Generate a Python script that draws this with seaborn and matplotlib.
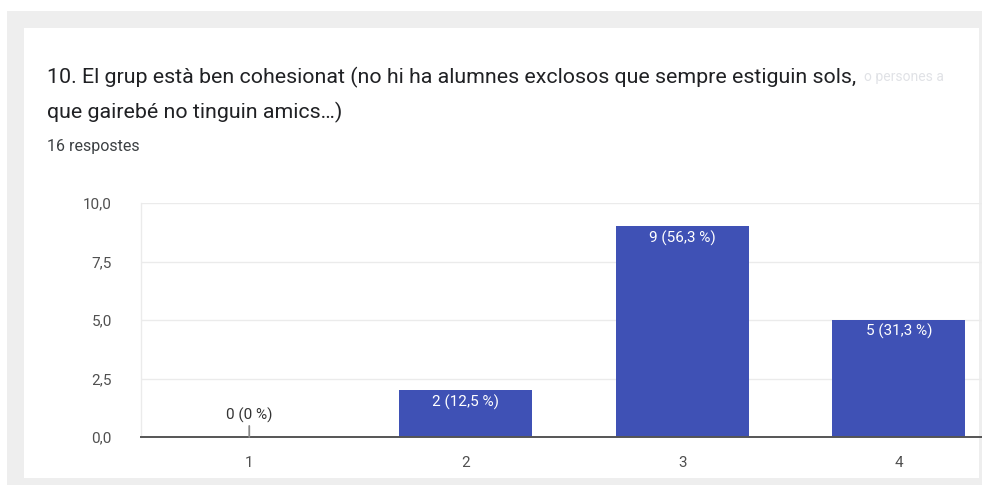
import matplotlib
matplotlib.use("Agg")
import matplotlib.pyplot as plt
from matplotlib.patches import Rectangle
from matplotlib.ticker import FuncFormatter, FixedLocator
import seaborn as sns
import pandas as pd

categories = ["1", "2", "3", "4"]
counts = [0, 2, 9, 5]
percents = ["0 %", "12,5 %", "56,3 %", "31,3 %"]
y_ticks = [0.0, 2.5, 5.0, 7.5, 10.0]
title_line1 = "10. El grup està ben cohesionat (no hi ha alumnes exclosos que sempre estiguin sols,"
title_hidden = "o persones a"
title_line2 = "que gairebé no tinguin amics…)"
subtitle = "16 respostes"

df = pd.DataFrame({"resposta": categories, "recompte": counts})

sns.set_theme(style="white")
plt.rcParams["font.family"] = ["Roboto", "DejaVu Sans"]

W, H = 982, 487
fig = plt.figure(figsize=(W / 100, H / 100), dpi=100)
fig.patch.set_facecolor("white")

def px_rect(x0, y0, x1, y1, color, z):
    fig.patches.append(Rectangle((x0 / W, 1 - y1 / H), (x1 - x0) / W, (y1 - y0) / H,
                                 transform=fig.transFigure, facecolor=color,
                                 edgecolor="none", zorder=z))

px_rect(7, 11, 982, 485, "#eeeeee", -10)
px_rect(24, 28, 979, 478, "#ffffff", -9)

ax_left, ax_right = 141, 1007
ax_top, ax_bottom = 203, 437
ax = fig.add_axes([ax_left / W, 1 - ax_bottom / H, (ax_right - ax_left) / W, (ax_bottom - ax_top) / H])
ax.set_facecolor("none")

sns.barplot(data=df, x="resposta", y="recompte", order=categories, color="#3f51b5",
            saturation=1, width=0.615, ax=ax, edgecolor="none", zorder=3)

ax.set_xlim(-0.5, len(categories) - 0.5)
ax.set_ylim(0, 10)
ax.yaxis.set_major_locator(FixedLocator(y_ticks))
ax.yaxis.set_major_formatter(FuncFormatter(lambda v, p: f"{v:.1f}".replace(".", ",")))
ax.grid(axis="y", color="#ebebeb", linewidth=1.0, zorder=0)
ax.grid(axis="x", visible=False)
ax.set_axisbelow(True)
for s in ["top", "right"]:
    ax.spines[s].set_visible(False)
ax.spines["left"].set_color("#ebebeb")
ax.spines["left"].set_linewidth(1.0)
ax.spines["bottom"].set_color("#555555")
ax.spines["bottom"].set_linewidth(1.4)
ax.spines["bottom"].set_zorder(5)
ax.set_xlabel("")
ax.set_ylabel("")
ax.tick_params(axis="y", length=0, pad=21, labelsize=11, labelcolor="#505050")
ax.tick_params(axis="x", length=0, pad=14, labelsize=11, labelcolor="#505050")

for i, (c, p) in enumerate(zip(counts, percents)):
    label = f"{c} ({p})"
    if c > 0:
        ax.annotate(label, xy=(i, c), xytext=(0, -4), textcoords="offset pixels",
                    ha="center", va="top", color="white", fontsize=11, zorder=6)
    else:
        ax.annotate(label, xy=(i, c), xytext=(0, 22), textcoords="offset pixels",
                    ha="center", va="center", color="#333333", fontsize=11, zorder=6,
                    arrowprops=dict(arrowstyle="-", color="#888888", lw=1.3,
                                    shrinkA=0, shrinkB=0))

t1 = fig.text(47 / W, 1 - 77 / H, title_line1, fontsize=15.4, color="#202124",
              ha="left", va="center")
fig.canvas.draw()
bb = t1.get_window_extent()
fig.text(bb.x1 / W + 8 / W, 1 - 77 / H, title_hidden, fontsize=10, color="#d9dbe0",
         ha="left", va="center", alpha=0.8)
fig.text(47 / W, 1 - 112 / H, title_line2, fontsize=15.4, color="#202124",
         ha="left", va="center")
fig.text(47 / W, 1 - 147 / H, subtitle, fontsize=11.5, color="#3c4043",
         ha="left", va="center")

fig.savefig("out.png", dpi=100, facecolor="white")
